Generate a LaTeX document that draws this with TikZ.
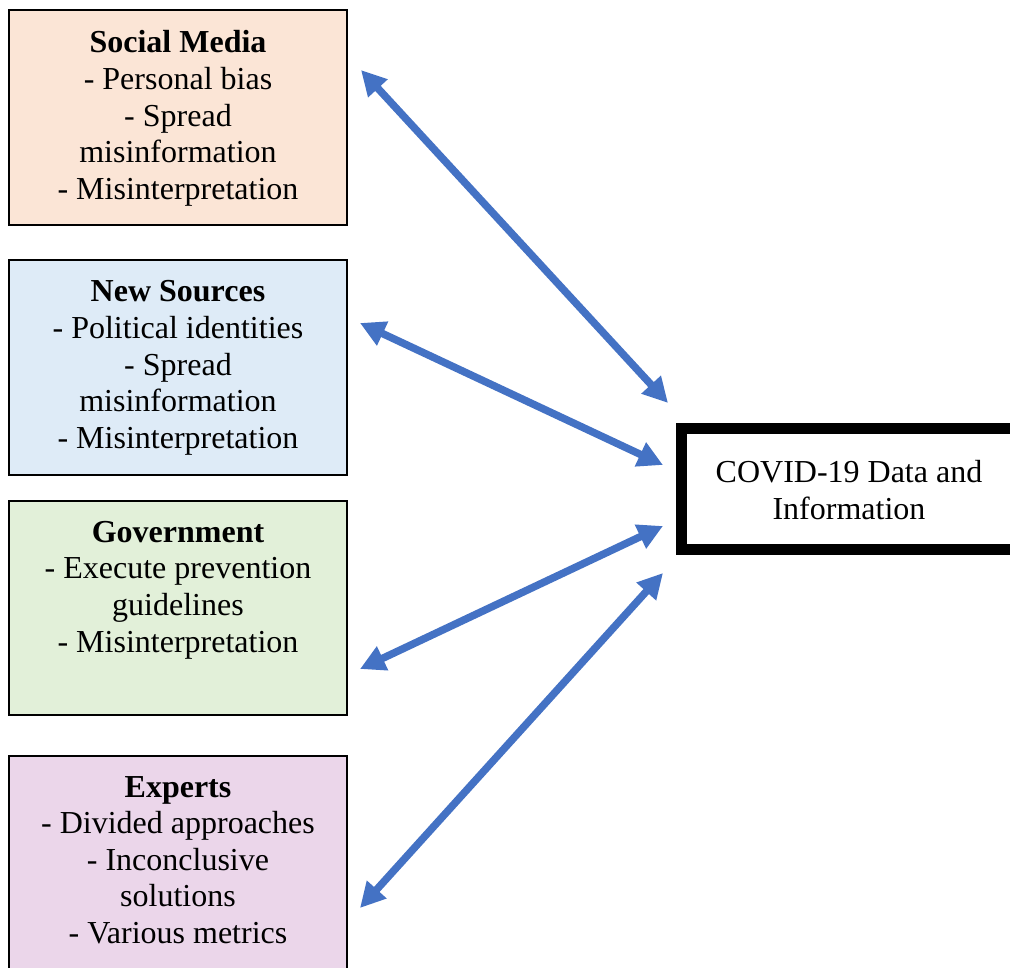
\documentclass[tikz,border=0pt]{standalone}
\usepackage{fontspec}
\setmainfont{Liberation Serif}
\usetikzlibrary{arrows.meta}
\definecolor{smfill}{HTML}{FBE5D6}
\definecolor{nsfill}{HTML}{DEEBF7}
\definecolor{gvfill}{HTML}{E2F0D9}
\definecolor{exfill}{HTML}{EBD6EA}
\definecolor{arrowblue}{HTML}{4472C4}
\tikzset{
  srcbox/.style={draw=black, line width=1.9pt, rectangle, inner sep=0pt, outer sep=0pt,
    minimum width=337.4pt, minimum height=214.7pt, anchor=north west},
  srctext/.style={align=center, inner sep=0pt, anchor=north,
    font=\fontsize{32}{36.6}\selectfont},
  mainbox/.style={draw=black, line width=10.5pt, rectangle, inner sep=0pt, outer sep=0pt,
    minimum width=336pt, minimum height=121pt, anchor=north west},
  link/.style={draw=arrowblue, line width=7.5pt,
    {Triangle[length=25pt,width=25pt]}-{Triangle[length=25pt,width=25pt]}}
}
\begin{document}
\begin{tikzpicture}[x=1pt,y=-1pt]
\useasboundingbox (0,0) rectangle (1010,968);
\clip (0,0) rectangle (1010,968);
% source boxes
\node[srcbox, fill=smfill] (sm) at (9.3,10.3) {};
\node[srcbox, fill=nsfill] (ns) at (9.3,260.3) {};
\node[srcbox, fill=gvfill] (gv) at (9.3,500.7) {};
\node[srcbox, fill=exfill] (ex) at (9.3,755.7) {};
% texts
\node[srctext] (smt) at (178,30.5) {\textbf{Social Media}\\- Personal bias\\- Spread\\misinformation\\- Misinterpretation};
\node[srctext] (nst) at (178,280.5) {\textbf{New Sources}\\- Political identities\\- Spread\\misinformation\\- Misinterpretation};
\node[srctext] (gvt) at (178,521) {\textbf{Government}\\- Execute prevention\\guidelines\\- Misinterpretation};
\node[srctext] (ext) at (178,776) {\textbf{Experts}\\- Divided approaches\\- Inconclusive\\solutions\\- Various metrics};
% main box
\node[mainbox, fill=white] (cv) at (681.5,428.5) {};
\node[srctext, anchor=center] (cvt) at (849,490) {COVID-19 Data and\\Information};
% arrow ends
\coordinate (smA) at (361,70);
\coordinate (smB) at (668,403);
\coordinate (nsA) at (360,323);
\coordinate (nsB) at (663,465);
\coordinate (gvA) at (360,669);
\coordinate (gvB) at (663,526);
\coordinate (exA) at (360,908);
\coordinate (exB) at (663,573);
\draw[link] (smA) -- (smB);
\draw[link] (nsA) -- (nsB);
\draw[link] (gvA) -- (gvB);
\draw[link] (exA) -- (exB);
\end{tikzpicture}
\end{document}
